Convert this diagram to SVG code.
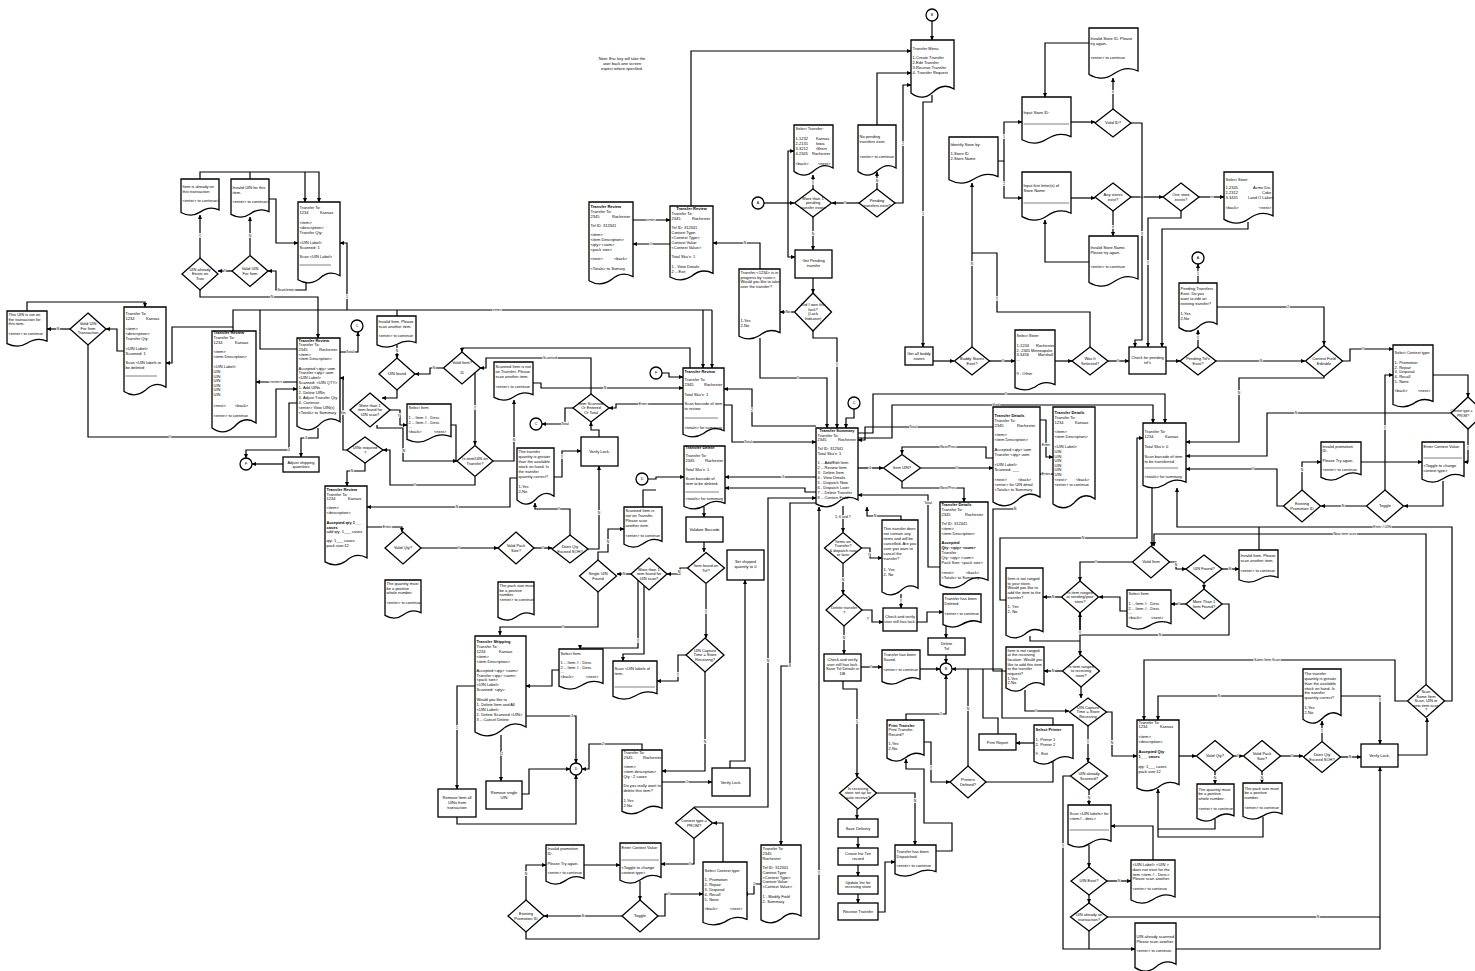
<svg xmlns="http://www.w3.org/2000/svg" xmlns:xlink="http://www.w3.org/1999/xlink" width="1475" height="971" viewBox="0 0 1475 971">
<style>
.n{fill:#fff;stroke:#000;stroke-width:1.3}
.t{font-family:"Liberation Sans",Arial,sans-serif;font-size:4px;fill:#000}
.b{font-weight:bold}
.m{text-anchor:middle}
.c{fill:none;stroke:#000;stroke-width:1.2;marker-end:url(#a)}
.k{fill:none;stroke:#000;stroke-width:1.2}
.lb{font-family:"Liberation Sans",Arial,sans-serif;font-size:3.5px;text-anchor:middle;fill:#000;stroke:#fff;stroke-width:1.6;paint-order:stroke}
.sep{stroke:#000;stroke-width:0.5}
.cl{font-family:"Liberation Sans",Arial,sans-serif;font-size:3.6px;text-anchor:middle;fill:#000}
</style>
<defs>
<marker id="a" viewBox="0 0 10 10" refX="9" refY="5" markerWidth="4.5" markerHeight="4.5" markerUnits="userSpaceOnUse" orient="auto"><path d="M0,0.5L10,5L0,9.5z" fill="#000"/></marker>
<path id="dS" vector-effect="non-scaling-stroke" d="M0,0H100V86C80,76 64,82 50,92C34,103 16,102 0,93Z"/>
<path id="dT" vector-effect="non-scaling-stroke" d="M0,0H100V91C80,85 64,88 50,95C34,101 16,101 0,96Z"/>
</defs>
<rect width="1475" height="971" fill="#fff"/>

<g id="connectors">
<path class="c" d="M200,179V172H319V202"/><path class="k" d="M250,179V172"/><path class="c" d="M305,172V202"/>
<path class="c" d="M269,199H276V243H298"/>
<path class="c" d="M250,255V217"/><text class="lb" x="250" y="237">N</text>
<path class="c" d="M200,258V215"/><text class="lb" x="200" y="237">Y</text>
<path class="c" d="M232,271H218"/><text class="lb" x="225" y="272">Y</text>
<path class="c" d="M306,283V290H276V271H268"/><text class="lb" x="286" y="291">Scan/enter</text>
<path class="c" d="M200,290V297H318V338"/><text class="lb" x="272" y="298">N</text>
<path class="k" d="M233,331V310H712"/><path class="c" d="M703,310V368"/><path class="c" d="M712,310V368"/><text class="lb" x="497" y="311">enter</text>
<path class="c" d="M347,310V243H340"/><text class="lb" x="347" y="298">1</text>
<path class="k" d="M397,316V310"/>
<path class="c" d="M27,311V302H145V307"/>
<path class="c" d="M70,329H47"/><text class="lb" x="58" y="330">N</text>
<path class="c" d="M124,351H117V329H106"/>
<path class="c" d="M233,327H172V363H166"/>
<path class="c" d="M88,345V437H276V389H297"/><text class="lb" x="170" y="438">Y</text>
<path class="c" d="M297,382H256"/><text class="lb" x="276" y="383">&lt;enter&gt;</text>
<path class="k" d="M297,349H260V310"/>
<path class="c" d="M340,352H358V332"/><text class="lb" x="350" y="353">Total</text>
<path class="c" d="M318,428V438H301V457"/><text class="lb" x="306" y="439">3</text>
<path class="c" d="M297,403H289V450H246V458"/><text class="lb" x="289" y="451">4</text>
<path class="c" d="M283,464H252"/>
<path class="c" d="M347,450H343V378H340"/><text class="lb" x="343" y="414">Yes</text>
<path class="c" d="M365,463V471H347V486"/><text class="lb" x="352" y="472">N</text>
<path class="c" d="M475,477V485H390V450H383"/><text class="lb" x="415" y="486">Y</text>
<path class="c" d="M397,345V358"/><text class="lb" x="397" y="352">N</text>
<path class="c" d="M443,368H430V374H415"/><text class="lb" x="434" y="369">N</text>
<path class="c" d="M397,390V398H382"/>
<path class="c" d="M390,410H400V425H407"/><text class="lb" x="399" y="417">Y</text>
<path class="c" d="M377,425V428H403V461H457"/><text class="lb" x="404" y="452">N</text>
<path class="k" d="M451,425H456V461"/>
<path class="c" d="M690,368V348H462V352"/>
<path class="c" d="M591,394V358H486V368H480"/><text class="lb" x="550" y="359">Scanned</text>
<path class="c" d="M475,373V445"/><text class="lb" x="475" y="409">Y</text>
<path class="c" d="M493,461H514V400"/><text class="lb" x="514" y="441">N</text>
<path class="c" d="M517,478H510V507H367"/><text class="lb" x="457" y="508">N</text>
<path class="c" d="M367,527H402V532"/><text class="lb" x="387" y="528">Enter</text>
<path class="c" d="M421,548H498"/><text class="lb" x="459" y="549">Y</text>
<path class="c" d="M534,548H552"/><text class="lb" x="543" y="549">Y</text>
<path class="c" d="M570,535V509H535V503"/><text class="lb" x="559" y="510">Y</text>
<path class="c" d="M588,549H599V466"/><text class="lb" x="599" y="514">N</text>
<path class="c" d="M554,477H562V451H581"/><text class="lb" x="562" y="458">Y</text>
<path class="c" d="M599,437V430H591V422"/>
<path class="c" d="M683,404H616V408H609"/><text class="lb" x="643" y="405">Enter</text>
<path class="c" d="M573,408H565V424H542"/><text class="lb" x="565" y="425">Total</text>
<path class="c" d="M533,383H541V388H683"/><text class="lb" x="605" y="389">N</text>
<path class="c" d="M662,373H669V377H683"/>
<path class="c" d="M724,405H732V442H816"/><text class="lb" x="748" y="443">Total</text>
<path class="c" d="M648,479H656V477H684"/>
<path class="k" d="M643,507V490H656"/>
<path class="c" d="M704,507V517"/>
<path class="c" d="M704,542V552"/>
<path class="c" d="M687,568H680V574H667"/><text class="lb" x="679" y="573">N</text>
<path class="c" d="M631,574H617"/><text class="lb" x="624" y="575">N</text>
<path class="c" d="M598,560V552H608V529H624"/><text class="lb" x="608" y="543">N</text>
<path class="c" d="M598,592V627H500V635"/><text class="lb" x="563" y="628">Y</text>
<path class="c" d="M816,426H752V389H724"/><text class="lb" x="752" y="411">2</text>
<path class="c" d="M816,477H725"/><text class="lb" x="783" y="478">3</text>
<path class="c" d="M816,492H805V488H725"/>
<path class="c" d="M559,670H552V686H526"/>
<path class="c" d="M638,580V648H580V649"/><text class="lb" x="638" y="642">Y</text>
<path class="c" d="M644,586V654H623V661"/>
<path class="c" d="M686,655H678V681H657"/><text class="lb" x="678" y="676">Y</text>
<path class="c" d="M705,672V771H662"/><text class="lb" x="705" y="743">N</text>
<path class="c" d="M706,584V638"/><text class="lb" x="706" y="613">Y</text>
<path class="c" d="M475,686H457V789"/><text class="lb" x="457" y="729">1</text>
<path class="c" d="M501,735V781"/><text class="lb" x="502" y="755">2</text>
<path class="c" d="M526,716H576V763"/><text class="lb" x="572" y="717">3</text>
<path class="c" d="M522,794H529V769H570"/>
<path class="c" d="M457,817V824H576V775"/>
<path class="c" d="M642,750V744H589V769H582"/><text class="lb" x="603" y="745">2</text>
<path class="c" d="M662,782H712"/><text class="lb" x="687" y="783">1</text>
<path class="c" d="M694,838V864H661"/><text class="lb" x="690" y="865">Y</text>
<path class="c" d="M723,862V823H713"/>
<path class="c" d="M640,881V900"/>
<path class="c" d="M658,916H665V894H703"/><text class="lb" x="669" y="895">Y</text>
<path class="c" d="M622,916H544"/><text class="lb" x="583" y="917">N</text>
<path class="c" d="M526,900V865H546"/><text class="lb" x="526" y="875">N</text>
<path class="c" d="M584,865H620"/>
<path class="c" d="M526,932V939H819V507"/><text class="lb" x="819" y="874">Y</text>
<path class="c" d="M694,807H768V498H816"/><text class="lb" x="768" y="662">N</text>
<path class="c" d="M816,503H790V666H781V845"/><text class="lb" x="790" y="667">8</text>
<path class="c" d="M730,768V761H745V580"/>
<path class="c" d="M761,884H754V894H744"/><text class="lb" x="754" y="885">1</text>
<path class="c" d="M843,506V532"/><text class="lb" x="843" y="518">5, 6 and 7</text>
<path class="c" d="M901,520V516H867V507"/><text class="lb" x="875" y="517">N</text>
<path class="c" d="M861,548H870V558H882"/><text class="lb" x="869" y="556">Y</text>
<path class="c" d="M843,564V594"/><text class="lb" x="843" y="581">N</text>
<path class="c" d="M901,594V608"/><text class="lb" x="901" y="602">Y</text>
<path class="c" d="M862,610H872V622H883"/><text class="lb" x="868" y="620">Y</text>
<path class="c" d="M917,622H927V612H943"/>
<path class="c" d="M946,626V638"/>
<path class="c" d="M946,655V663"/>
<path class="c" d="M844,626V654"/><text class="lb" x="844" y="639">N</text>
<path class="c" d="M861,667H882"/><text class="lb" x="871" y="668">Y</text>
<path class="c" d="M920,669H940"/>
<path class="c" d="M1053,725V718H1002V669H952"/>
<path class="k" d="M998,734V718H983V669"/>
<path class="c" d="M906,720V714H946V675"/><text class="lb" x="941" y="715">2</text>
<path class="c" d="M924,742H931V782H950"/><text class="lb" x="931" y="769">Y</text>
<path class="k" d="M986,782H1053V762"/>
<path class="c" d="M1034,743H1016"/>
<path class="k" d="M968,766V669"/><text class="lb" x="968" y="710">N</text>
<path class="c" d="M843,681V689H857V777"/><text class="lb" x="857" y="723">5</text>
<path class="c" d="M857,809V819"/>
<path class="c" d="M876,793H915V845"/><text class="lb" x="915" y="802">N</text>
<path class="c" d="M858,837V848"/><path class="c" d="M858,865V876"/><path class="c" d="M858,894V903"/>
<path class="c" d="M878,912H885V862H895"/>
<path class="c" d="M936,851H952V823H924V769H906V759"/>
<path class="c" d="M854,409V418H846V428"/>
<path class="c" d="M858,468H883"/><text class="lb" x="870" y="469">4</text>
<path class="c" d="M921,468H993"/><text class="lb" x="957" y="469">Y</text>
<path class="c" d="M993,458H986V447H902V454"/><text class="lb" x="948" y="448">Next/Prev</text>
<path class="c" d="M902,482V488H964V502"/><text class="lb" x="948" y="489">Next/Prev</text>
<path class="c" d="M940,567H928V495H858"/><text class="lb" x="928" y="504">Total</text>
<path class="c" d="M993,427H865V440H858"/><text class="lb" x="913" y="428">Total</text>
<path class="c" d="M1040,420H1046V457H1053"/><text class="lb" x="1046" y="446">Enter</text>
<path class="c" d="M1053,474H1040"/><text class="lb" x="1046" y="475">Enter</text>
<path class="c" d="M858,433H873V394H1165V423"/><text class="lb" x="1006" y="395">Y</text>
<path class="c" d="M858,438H892V405H1153V423"/><text class="lb" x="996" y="406">Void</text>
<path class="c" d="M1006,671H993V509H1015V506"/><text class="lb" x="1015" y="510">N</text>
<path class="c" d="M1062,671H1044"/><text class="lb" x="1053" y="672">N</text>
<path class="c" d="M1025,690V711H1069"/><text class="lb" x="1036" y="712">Y</text>
<path class="c" d="M1081,687V698"/>
<path class="c" d="M1088,726V762"/><text class="lb" x="1088" y="743">Y</text>
<path class="c" d="M1106,712H1112V756H1137"/><text class="lb" x="1112" y="744">N</text>
<path class="c" d="M1089,790V805"/><text class="lb" x="1089" y="799">N</text>
<path class="c" d="M1070,776H1063V949H1135"/><text class="lb" x="1063" y="847">Y</text>
<path class="k" d="M1089,931V949"/>
<path class="c" d="M1089,845V867"/>
<path class="c" d="M1089,895V903"/>
<path class="c" d="M1107,881H1131"/><text class="lb" x="1119" y="882">N</text>
<path class="c" d="M1153,860V826H1111"/>
<path class="c" d="M1107,917H1380V767"/><text class="lb" x="1318" y="918">N</text>
<path class="k" d="M1176,949H1380V917"/>
<path class="c" d="M1179,756H1196"/>
<path class="c" d="M1233,756H1243"/><text class="lb" x="1238" y="757">Y</text>
<path class="c" d="M1280,756H1303"/><text class="lb" x="1292" y="757">Y</text>
<path class="c" d="M1340,757H1361"/><text class="lb" x="1350" y="758">N</text>
<path class="c" d="M1322,741V721"/><text class="lb" x="1322" y="732">Y</text>
<path class="c" d="M1215,771V784"/><text class="lb" x="1215" y="779">N</text>
<path class="c" d="M1262,771V783"/><text class="lb" x="1262" y="779">N</text>
<path class="k" d="M1215,819V829H1158"/><path class="c" d="M1263,817V837H1158V789"/>
<path class="c" d="M1303,696H1158V720"/><text class="lb" x="1219" y="697">N</text>
<path class="c" d="M1341,696H1380V744"/><text class="lb" x="1380" y="701">Y</text>
<path class="c" d="M1398,755H1427V718"/>
<path class="c" d="M1407,701H1395V660H1144V720"/><text class="lb" x="1267" y="661">Same Item Scan</text>
<path class="c" d="M1444,701H1452V527H1177V488"/><text class="lb" x="1382" y="528">Enter / UIN</text>
<path class="c" d="M1426,684V534H1154V546"/><text class="lb" x="1345" y="535">New item scan</text>
<path class="k" d="M1259,550V527"/>
<path class="c" d="M1152,487V546"/>
<path class="c" d="M1169,562H1176V569H1186"/><text class="lb" x="1176" y="566">N</text>
<path class="c" d="M1222,569H1239"/><text class="lb" x="1230" y="570">N</text>
<path class="c" d="M1204,583V589"/>
<path class="c" d="M1186,604H1171"/><text class="lb" x="1179" y="605">Y</text>
<path class="c" d="M1222,604H1229V635H1080V613"/><text class="lb" x="1160" y="636">N</text>
<path class="c" d="M1132,562H1080V581"/><text class="lb" x="1096" y="563">Y</text>
<path class="c" d="M1061,597H1043"/><text class="lb" x="1053" y="598">N</text>
<path class="c" d="M1006,600H1000V538H1137V438H1143"/><text class="lb" x="1083" y="539">N</text>
<path class="c" d="M1080,613V655"/><text class="lb" x="1080" y="634">Y</text>
<path class="k" d="M1030,636V641H1080"/>
<path class="c" d="M1127,611H1120V597H1099"/>
<path class="c" d="M1166,361H1180"/>
<path class="c" d="M1198,347V330"/><text class="lb" x="1198" y="339">Y</text>
<path class="c" d="M1216,361H1305"/><text class="lb" x="1261" y="362">N</text>
<path class="c" d="M1342,361H1350V349H1393"/><text class="lb" x="1363" y="350">Y</text>
<path class="c" d="M1324,376V378H1239V442H1186"/><text class="lb" x="1239" y="394">N</text>
<path class="c" d="M1433,375H1468V397"/>
<path class="c" d="M1451,413H1267V456H1186"/><text class="lb" x="1296" y="414">N</text>
<path class="c" d="M1468,429V462H1464"/><text class="lb" x="1468" y="449">Y</text>
<path class="c" d="M1443,481V506H1404"/>
<path class="c" d="M1366,506H1321"/><text class="lb" x="1343" y="507">N</text>
<path class="c" d="M1385,490V375H1393"/><text class="lb" x="1385" y="429">Y</text>
<path class="c" d="M1361,462H1422"/>
<path class="c" d="M1302,490V462H1321"/><text class="lb" x="1302" y="471">N</text>
<path class="c" d="M1283,506H1277V469H1186"/><text class="lb" x="1253" y="470">Y</text>
<path class="c" d="M1217,307H1324V345"/><text class="lb" x="1288" y="308">2</text>
<path class="c" d="M1198,283V264"/><text class="lb" x="1198" y="275">1</text>
<path class="c" d="M933,361H954"/>
<path class="c" d="M989,361H1015"/><text class="lb" x="1003" y="362">Y</text>
<path class="c" d="M1055,361H1072"/>
<path class="c" d="M1108,361H1129"/><text class="lb" x="1118" y="362">Y</text>
<path class="c" d="M972,347V183"/><text class="lb" x="972" y="265">N</text>
<path class="k" d="M1090,347V312H997V253H972"/><text class="lb" x="997" y="300">Y</text>
<path class="c" d="M998,161H1004V122H1022"/><text class="lb" x="1004" y="138">1</text>
<path class="c" d="M1004,161V198H1022"/><text class="lb" x="1004" y="185">2</text>
<path class="c" d="M1071,122H1095"/>
<path class="c" d="M1113,109V78"/><text class="lb" x="1113" y="93">n</text>
<path class="c" d="M1089,43H1045V97"/>
<path class="c" d="M1113,211V236"/><text class="lb" x="1113" y="228">n</text>
<path class="c" d="M1089,262H1045V220"/>
<path class="c" d="M1071,198H1095"/>
<path class="c" d="M1131,197H1163"/><text class="lb" x="1142" y="198">y</text>
<path class="c" d="M1131,123H1142V340H1135V347"/><text class="lb" x="1142" y="234">y</text>
<path class="c" d="M1181,211V218H1148V347"/><text class="lb" x="1148" y="264">Y</text>
<path class="c" d="M1248,222V229H1162V347"/>
<path class="c" d="M1199,197H1224"/><text class="lb" x="1212" y="198">n</text>
<path class="c" d="M633,220H670"/><text class="lb" x="651" y="221">enter</text>
<path class="c" d="M670,244H633"/><text class="lb" x="651" y="245">1</text>
<path class="c" d="M691,206V51H911"/>
<path class="c" d="M760,269V243H713"/><text class="lb" x="745" y="244">N</text>
<path class="c" d="M794,312H780"/><text class="lb" x="788" y="313">No</text>
<path class="c" d="M764,203H794"/><path class="c" d="M788,203V151H794"/><path class="c" d="M788,203V257H795"/>
<path class="c" d="M813,189V175"/><text class="lb" x="813" y="184">Y</text>
<path class="c" d="M813,217V250"/><text class="lb" x="813" y="235">N</text>
<path class="c" d="M859,203H832"/><text class="lb" x="845" y="204">Y</text>
<path class="c" d="M877,189V172"/><text class="lb" x="877" y="182">N</text>
<path class="c" d="M877,125V73H911"/>
<path class="c" d="M895,203H903V85H911"/><text class="lb" x="903" y="145">2</text>
<path class="c" d="M932,21V40"/>
<path class="c" d="M932,95V102H923V347"/><text class="lb" x="923" y="215">1</text>
<path class="c" d="M813,278V293"/>
<path class="c" d="M813,331V338H837V428"/><text class="lb" x="837" y="366">Y</text>
<path class="c" d="M760,338V378H827V428"/><text class="lb" x="798" y="379">Y</text>
</g>

<g id="note"><text class="t m"><tspan x="622" y="60">Note: Esc key will take the</tspan><tspan x="622" y="65">user back one screen</tspan><tspan x="622" y="70">expect where specified.</tspan></text></g>

<g id="c-B1"><circle class="n" cx="932" cy="15" r="6"/><text class="cl" x="932" y="16.3">B</text></g>
<g id="c-A1"><circle class="n" cx="758" cy="203" r="6"/><text class="cl" x="758" y="204.3">A</text></g>
<g id="c-A2"><circle class="n" cx="1198" cy="258" r="6"/><text class="cl" x="1198" y="259.3">A</text></g>
<g id="c-C1"><circle class="n" cx="357" cy="326" r="6"/><text class="cl" x="357" y="327.3">C</text></g>
<g id="c-C2"><circle class="n" cx="854" cy="403" r="6"/><text class="cl" x="854" y="404.3">C</text></g>
<g id="c-C3"><circle class="n" cx="536" cy="424" r="6"/><text class="cl" x="536" y="425.3">C</text></g>
<g id="c-F1"><circle class="n" cx="246" cy="464" r="6"/><text class="cl" x="246" y="465.3">F</text></g>
<g id="c-F2"><circle class="n" cx="656" cy="373" r="6"/><text class="cl" x="656" y="374.3">F</text></g>
<g id="c-D1"><circle class="n" cx="642" cy="479" r="6"/><text class="cl" x="642" y="480.3">D</text></g>
<g id="c-D2"><circle class="n" cx="576" cy="769" r="6"/><text class="cl" x="576" y="770.3">D</text></g>
<g id="c-B2"><circle class="n" cx="946" cy="669" r="6"/><text class="cl" x="946" y="670.3">B</text></g>

<g id="n-menu"><use href="#dS" class="n" transform="translate(911,40) scale(.43,.57)"/><text class="t"><tspan x="912.5" y="50">Transfer Menu</tspan><tspan x="912.5" y="59">1-Create Transfer</tspan><tspan x="912.5" y="64">2-Edit Transfer</tspan><tspan x="912.5" y="69">3-Receive Transfer</tspan><tspan x="912.5" y="74">4- Transfer Request</tspan></text></g>

<g id="n-tr1"><use href="#dT" class="n" transform="translate(589,202) scale(.44,.82)"/><text class="t"><tspan class="b" x="590.5" y="208">Transfer Review</tspan><tspan x="590.5" y="213">Transfer To:</tspan><tspan x="590.5" y="218">2345</tspan><tspan x="612" y="218">Rochester</tspan><tspan x="590.5" y="227">Tsf ID: 312341</tspan><tspan x="590.5" y="236">&lt;item&gt;</tspan><tspan x="590.5" y="241">&lt;item Description&gt;</tspan><tspan x="590.5" y="246">&lt;qty&gt;   &lt;uom&gt;</tspan><tspan x="590.5" y="251">&lt;pack size&gt;</tspan><tspan x="590.5" y="260">&lt;next&gt;</tspan><tspan x="614" y="260">&lt;back&gt;</tspan><tspan x="590.5" y="270">&lt;Totals&gt; to Sumary</tspan></text></g>

<g id="n-tr2"><use href="#dT" class="n" transform="translate(670,206) scale(.43,.74)"/><text class="t"><tspan class="b m" x="691.5" y="210">Transfer Review</tspan><tspan x="671.5" y="215">Transfer To:</tspan><tspan x="671.5" y="220">2345</tspan><tspan x="692" y="220">Rochester</tspan><tspan x="671.5" y="229">Tsf ID: 312341</tspan><tspan x="671.5" y="234">Context Type:</tspan><tspan x="671.5" y="239">&lt;Context Type&gt;</tspan><tspan x="671.5" y="244">Context Value:</tspan><tspan x="671.5" y="249">&lt;Context Value&gt;</tspan><tspan x="671.5" y="258">Total Sku's: 1</tspan><tspan x="671.5" y="268">1 - View Details</tspan><tspan x="671.5" y="273">2 -- Exit</tspan></text></g>

<g id="n-selT"><use href="#dS" class="n" transform="translate(794,125) scale(.39,.5)"/><text class="t"><tspan x="795.5" y="130">Select Transfer:</tspan><tspan x="795.5" y="140">1-1232</tspan><tspan x="816" y="140">Kansas</tspan><tspan x="795.5" y="145">2-2131</tspan><tspan x="816" y="145">Iowa</tspan><tspan x="795.5" y="150">3-3212</tspan><tspan x="816" y="150">Ghent</tspan><tspan x="795.5" y="155">4-2345</tspan><tspan x="812" y="155">Rochester</tspan><tspan x="795.5" y="165">&lt;back&gt;</tspan><tspan x="818" y="165">&lt;next&gt;</tspan></text></g>

<g id="n-nopend"><use href="#dS" class="n" transform="translate(858,125) scale(.38,.5)"/><text class="t"><tspan x="859.5" y="138">No pending</tspan><tspan x="859.5" y="143">transfers exist.</tspan><tspan x="859.5" y="158">&lt;enter&gt; to continue</tspan></text></g>

<g id="n-inprog"><use href="#dT" class="n" transform="translate(739,269) scale(.41,.7)"/><text class="t"><tspan x="740.5" y="274">Transfer &lt;1234&gt; is in</tspan><tspan x="740.5" y="278.5">progress by &lt;user&gt;.</tspan><tspan x="740.5" y="283">Would you like to take</tspan><tspan x="740.5" y="287.5">over the transfer?</tspan><tspan x="740.5" y="322">1-Yes</tspan><tspan x="740.5" y="327">2-No</tspan></text></g>

<g id="n-idstore"><use href="#dS" class="n" transform="translate(949,137) scale(.49,.46)"/><text class="t"><tspan x="950.5" y="146">Identify Store by:</tspan><tspan x="950.5" y="155">1-Store ID</tspan><tspan x="950.5" y="160">2-Store Name</tspan></text></g>
<g id="n-instid"><use href="#dS" class="n" transform="translate(1022,97) scale(.49,.46)"/><text class="t"><tspan x="1023.5" y="114">Input Store ID:</tspan></text><line class="sep" x1="1023.5" y1="124" x2="1069" y2="124"/></g>
<g id="n-inname"><use href="#dS" class="n" transform="translate(1022,172) scale(.49,.48)"/><text class="t"><tspan x="1023.5" y="187">Input first letter(s) of</tspan><tspan x="1023.5" y="192">Store Name:</tspan></text><line class="sep" x1="1023.5" y1="203" x2="1069" y2="203"/></g>
<g id="n-invid"><use href="#dS" class="n" transform="translate(1089,28) scale(.49,.5)"/><text class="t"><tspan x="1090.5" y="40">Invalid Store ID.  Please</tspan><tspan x="1090.5" y="45">try again.</tspan><tspan x="1090.5" y="59">&lt;enter&gt; to continue</tspan></text></g>
<g id="n-invname"><use href="#dS" class="n" transform="translate(1089,236) scale(.49,.5)"/><text class="t"><tspan x="1090.5" y="249">Invalid Store Name.</tspan><tspan x="1090.5" y="254">Please try again.</tspan><tspan x="1090.5" y="268">&lt;enter&gt; to continue</tspan></text></g>
<g id="n-selstore1"><use href="#dS" class="n" transform="translate(1224,172) scale(.49,.51)"/><text class="t"><tspan x="1225.5" y="181">Select Store:</tspan><tspan x="1225.5" y="189">1-2345</tspan><tspan x="1253" y="189">Acme Dis.</tspan><tspan x="1225.5" y="194">2-2312</tspan><tspan x="1262" y="194">Coke</tspan><tspan x="1225.5" y="199">3-3431</tspan><tspan x="1248" y="199">Land O Lakes</tspan><tspan x="1225.5" y="209">&lt;back&gt;</tspan><tspan x="1259" y="209">&lt;next&gt;</tspan></text></g>
<g id="n-pendexist"><use href="#dS" class="n" transform="translate(1179,283) scale(.38,.48)"/><text class="t"><tspan x="1180.5" y="290">Pending Transfers</tspan><tspan x="1180.5" y="295">Exist.  Do you</tspan><tspan x="1180.5" y="300">want to edit an</tspan><tspan x="1180.5" y="305">existing transfer?</tspan><tspan x="1180.5" y="315">1-Yes</tspan><tspan x="1180.5" y="320">2-No</tspan></text></g>

<g id="r-getpend"><rect class="n" x="795" y="250" width="37" height="28"/><text class="t m"><tspan x="813.5" y="262">Get Pending</tspan><tspan x="813.5" y="267">transfer</tspan></text></g>
<g id="r-buddy"><rect class="n" x="905" y="347" width="28" height="18"/><text class="t m"><tspan x="919" y="355">Get all buddy</tspan><tspan x="919" y="360">stores</tspan></text></g>
<g id="r-checkpend"><rect class="n" x="1129" y="347" width="37" height="27"/><text class="t m"><tspan x="1147.5" y="359">Check for pending</tspan><tspan x="1147.5" y="364">tsf's</tspan></text></g>
<g id="r-checkverify"><rect class="n" x="883" y="608" width="34" height="23"/><text class="t m"><tspan x="900" y="618">Check and verify</tspan><tspan x="900" y="623">user still has lock.</tspan></text></g>
<g id="r-deltsf"><rect class="n" x="928" y="638" width="37" height="17"/><text class="t m"><tspan x="946.5" y="645">Delete</tspan><tspan x="946.5" y="650">Tsf</tspan></text></g>
<g id="r-verify1"><rect class="n" x="581" y="437" width="37" height="29"/><text class="t m" x="599.5" y="452.5">Verify Lock.</text></g>
<g id="r-validate"><rect class="n" x="686" y="517" width="37" height="25"/><text class="t m" x="704.5" y="531">Validate Barcode</text></g>
<g id="r-setship"><rect class="n" x="727" y="550" width="37" height="30"/><text class="t m"><tspan x="745.5" y="563">Set shipped</tspan><tspan x="745.5" y="568">quantity to 0</tspan></text></g>
<g id="r-adjust"><rect class="n" x="283" y="457" width="36" height="15"/><text class="t m"><tspan x="301" y="463.5">Adjust shipping</tspan><tspan x="301" y="468">quantities</tspan></text></g>
<g id="r-remsingle"><rect class="n" x="486" y="781" width="36" height="28"/><text class="t m"><tspan x="504" y="794">Remove single</tspan><tspan x="504" y="799">UIN</tspan></text></g>
<g id="r-remall"><rect class="n" x="438" y="789" width="38" height="28"/><text class="t m"><tspan x="457" y="799">Remove Item all</tspan><tspan x="457" y="804">UINs from</tspan><tspan x="457" y="809">transaction</tspan></text></g>
<g id="r-verify2"><rect class="n" x="712" y="768" width="38" height="28"/><text class="t m" x="731" y="783.5">Verify Lock.</text></g>
<g id="r-checksave"><rect class="n" x="824" y="654" width="37" height="27"/><text class="t m"><tspan x="842.5" y="661">Check and verify</tspan><tspan x="842.5" y="665.5">user still has lock.</tspan><tspan x="842.5" y="670">Save Tsf Details in</tspan><tspan x="842.5" y="675">DB</tspan></text></g>
<g id="r-printrep"><rect class="n" x="979" y="734" width="37" height="16"/><text class="t m" x="997.5" y="743.5">Print Report</text></g>
<g id="r-savedel"><rect class="n" x="838" y="819" width="40" height="18"/><text class="t m" x="858" y="829.5">Save Delivery</text></g>
<g id="r-createinv"><rect class="n" x="838" y="848" width="40" height="17"/><text class="t m"><tspan x="858" y="855">Create Inv Txn</tspan><tspan x="858" y="859.5">record</tspan></text></g>
<g id="r-updinv"><rect class="n" x="838" y="876" width="40" height="18"/><text class="t m"><tspan x="858" y="883.5">Update Inv for</tspan><tspan x="858" y="888">receiving store</tspan></text></g>
<g id="r-recvtsf"><rect class="n" x="838" y="903" width="40" height="17"/><text class="t m" x="858" y="913">Receive Transfer</text></g>
<g id="r-verify3"><rect class="n" x="1361" y="744" width="37" height="23"/><text class="t m" x="1379.5" y="757">Verify Lock.</text></g>

<g id="d-more1"><polygon class="n" points="813,189 831.5,203 813,217 794.5,203"/><text class="t m"><tspan x="813" y="199.5">More than 1</tspan><tspan x="813" y="204">pending</tspan><tspan x="813" y="208.5">transfer exists</tspan></text></g>
<g id="d-pend"><polygon class="n" points="877,189 895,203 877,217 859,203"/><text class="t m"><tspan x="877" y="202">Pending</tspan><tspan x="877" y="206.5">transfers exist?</tspan></text></g>
<g id="d-lock"><polygon class="n" points="813,293 831.5,312 813,331 794.5,312"/><text class="t m"><tspan x="813" y="306">Did I own the</tspan><tspan x="813" y="310.5">lock?</tspan><tspan x="813" y="315">(Lock</tspan><tspan x="813" y="319.5">Indicator)</tspan></text></g>
<g id="d-validid"><polygon class="n" points="1113,109 1131,123 1113,137 1095,123"/><text class="t m" x="1113" y="124.4">Valid ID?</text></g>
<g id="d-anystores"><polygon class="n" points="1113,183 1131,197 1113,211 1095,197"/><text class="t m"><tspan x="1113" y="196">Any stores</tspan><tspan x="1113" y="200.5">exist?</tspan></text></g>
<g id="d-onestore"><polygon class="n" points="1181,183 1199,197 1181,211 1163,197"/><text class="t m"><tspan x="1181" y="196">One store</tspan><tspan x="1181" y="200.5">exists?</tspan></text></g>
<g id="d-buddy"><polygon class="n" points="972,347 989.5,361 972,375 954.5,361"/><text class="t m"><tspan x="972" y="360">Buddy Stores</tspan><tspan x="972" y="364.5">Exist?</tspan></text></g>
<g id="d-wassel"><polygon class="n" points="1090,347 1108,361 1090,375 1072,361"/><text class="t m"><tspan x="1090" y="360">Was It</tspan><tspan x="1090" y="364.5">Selected?</tspan></text></g>
<g id="d-pendtsf"><polygon class="n" points="1198,347 1216,361 1198,375 1180,361"/><text class="t m"><tspan x="1198" y="360">Pending Tsf's</tspan><tspan x="1198" y="364.5">Exist?</tspan></text></g>
<g id="d-ctxedit"><polygon class="n" points="1324,345.5 1342.5,361 1324,376.5 1305.5,361"/><text class="t m"><tspan x="1324" y="360">Context Field</tspan><tspan x="1324" y="364.5">Editable</tspan></text></g>
<g id="d-ctxprom1"><polygon class="n" points="1468,397 1485,413 1468,429 1451,413"/><text class="t m" style="font-size:3.4px"><tspan x="1461.5" y="412">Context type =</tspan><tspan x="1463" y="416.5">PROM?</tspan></text></g>
<g id="d-toggle1"><polygon class="n" points="1385,490 1403.5,506 1385,522 1366.5,506"/><text class="t m" x="1385" y="507.4">Toggle</text></g>
<g id="d-exist1"><polygon class="n" points="1302,490 1320.5,506 1302,522 1283.5,506"/><text class="t m"><tspan x="1302" y="505">Existing</tspan><tspan x="1302" y="509.5">Promotion ID</tspan></text></g>
<g id="d-validitem"><polygon class="n" points="1151,546 1169.5,562 1151,578 1132.5,562"/><text class="t m" x="1151" y="563.4">Valid Item</text></g>
<g id="d-uinfound2"><polygon class="n" points="1204,555 1222,569 1204,583 1186,569"/><text class="t m" x="1204" y="570.4">UIN Found?</text></g>
<g id="d-more1item2"><polygon class="n" points="1204,589 1222,604 1204,619 1186,604"/><text class="t m"><tspan x="1204" y="603">More Than 1</tspan><tspan x="1204" y="607.5">Item Found?</tspan></text></g>
<g id="d-itemuin"><polygon class="n" points="902,454.5 920.5,468 902,481.5 883.5,468"/><text class="t m" x="902" y="469.4">Item UIN?</text></g>
<g id="d-items"><polygon class="n" points="843,532.5 861.5,548 843,563.5 824.5,548"/><text class="t m"><tspan x="843" y="542.5">Items on</tspan><tspan x="843" y="547">Transfer?</tspan><tspan x="843" y="551.5">&amp; dispatch now</tspan><tspan x="843" y="556">or later</tspan></text></g>
<g id="d-deltsf"><polygon class="n" points="844,594 862,610 844,626 826,610"/><text class="t m"><tspan x="844" y="609">Delete transfer</tspan><tspan x="844" y="613.5">?</tspan></text></g>
<g id="d-rangedsend"><polygon class="n" points="1080,581 1098.5,597 1080,613 1061.5,597"/><text class="t m"><tspan x="1080" y="593.8">Is item ranged</tspan><tspan x="1080" y="598.3">at sending/your</tspan><tspan x="1080" y="602.8">store?</tspan></text></g>
<g id="d-uinfound1"><polygon class="n" points="397,358 415,374 397,390 379,374"/><text class="t m" x="397" y="375.4">UIN found</text></g>
<g id="d-validitem1"><polygon class="n" points="462,352 480.5,368 462,384 443.5,368"/><text class="t m"><tspan x="462" y="364">Valid Item?</tspan><tspan x="462" y="374">11</tspan></text></g>
<g id="d-more1a"><polygon class="n" points="370,393 390,410 370,427 350,410"/><text class="t m"><tspan x="370" y="406.8">More than 1</tspan><tspan x="370" y="411.3">item found for</tspan><tspan x="370" y="415.8">UIN scan?</tspan></text></g>
<g id="d-isitemuin"><polygon class="n" points="475,445.5 493,461 475,476.5 457,461"/><text class="t m"><tspan x="475" y="460">Is item/UIN on</tspan><tspan x="475" y="464.5">Transfer?</tspan></text></g>
<g id="d-uinsreq"><polygon class="n" points="365,437 383,450 365,463 347,450"/><text class="t m"><tspan x="365" y="449">UINs required</tspan><tspan x="365" y="453.5">?</tspan></text></g>
<g id="d-scanned"><polygon class="n" points="591,394 609,408 591,422 573,408"/><text class="t m"><tspan x="591" y="404.8">Item Scanned</tspan><tspan x="591" y="409.3">Or Entered</tspan><tspan x="591" y="413.8">Or Total</tspan></text></g>
<g id="d-itemfound"><polygon class="n" points="706,552.5 724.5,568 706,583.5 687.5,568"/><text class="t m"><tspan x="706" y="567">Item found on</tspan><tspan x="706" y="571.5">Tsf?</tspan></text></g>
<g id="d-more1b"><polygon class="n" points="649,558 667,574 649,590 631,574"/><text class="t m"><tspan x="649" y="570.8">More than 1</tspan><tspan x="649" y="575.3">item found for</tspan><tspan x="649" y="579.8">UIN scan?</tspan></text></g>
<g id="d-single"><polygon class="n" points="598,560 616.5,576 598,592 579.5,576"/><text class="t m"><tspan x="598" y="575">Single UIN</tspan><tspan x="598" y="579.5">Found</tspan></text></g>
<g id="d-exceed1"><polygon class="n" points="570,535 588,549 570,563 552,549"/><text class="t m"><tspan x="570" y="548">Does Qty</tspan><tspan x="570" y="552.5">Exceed SOH?</tspan></text></g>
<g id="d-pack1"><polygon class="n" points="516,532 534,548 516,564 498,548"/><text class="t m"><tspan x="516" y="547">Valid Pack</tspan><tspan x="516" y="551.5">Size?</tspan></text></g>
<g id="d-qty1"><polygon class="n" points="403,532 421,548 403,564 385,548"/><text class="t m" x="403" y="549.4">Valid Qty?</text></g>
<g id="d-uinexists"><polygon class="n" points="200,258 218,274 200,290 182,274"/><text class="t m"><tspan x="200" y="270.8">UIN already</tspan><tspan x="200" y="275.3">Exists on</tspan><tspan x="200" y="279.8">Tran</tspan></text></g>
<g id="d-validuin"><polygon class="n" points="250,255.5 268,271 250,286.5 232,271"/><text class="t m"><tspan x="250" y="270">Valid UIN</tspan><tspan x="250" y="274.5">For Item</tspan></text></g>
<g id="d-validuin2"><polygon class="n" points="88,313 106,329 88,345 70,329"/><text class="t m"><tspan x="88" y="325.3">Valid UIN</tspan><tspan x="88" y="329.8">For Item</tspan><tspan x="88" y="334.3">Transaction</tspan></text></g>
<g id="d-uincap1"><polygon class="n" points="705,638 724,655 705,672 686,655"/><text class="t m"><tspan x="705" y="651.8">UIN Capture</tspan><tspan x="705" y="656.3">Time = Store</tspan><tspan x="705" y="660.8">Receiving?</tspan></text></g>
<g id="d-ctxprom2"><polygon class="n" points="694,807.5 712.5,823 694,838.5 675.5,823"/><text class="t m"><tspan x="694" y="822">Context type =</tspan><tspan x="694" y="826.5">PROM?</tspan></text></g>
<g id="d-exist2"><polygon class="n" points="526,900 544,916 526,932 508,916"/><text class="t m"><tspan x="526" y="915">Existing</tspan><tspan x="526" y="919.5">Promotion ID</tspan></text></g>
<g id="d-toggle2"><polygon class="n" points="640,900 658,916 640,932 622,916"/><text class="t m" x="640" y="917.4">Toggle</text></g>
<g id="d-printers"><polygon class="n" points="968,766 986,782 968,798 950,782"/><text class="t m"><tspan x="968" y="781">Printers</tspan><tspan x="968" y="785.5">Defined?</tspan></text></g>
<g id="d-autorecv"><polygon class="n" points="858,777 876.5,793 858,809 839.5,793"/><text class="t m"><tspan x="858" y="789.8">Is receiving</tspan><tspan x="858" y="794.3">store set up for</tspan><tspan x="858" y="798.8">auto receive?</tspan></text></g>
<g id="d-rangedrecv"><polygon class="n" points="1081,655 1099.5,671 1081,687 1062.5,671"/><text class="t m"><tspan x="1081" y="667.8">Is item ranged</tspan><tspan x="1081" y="672.3">to receiving</tspan><tspan x="1081" y="676.8">store?</tspan></text></g>
<g id="d-uincap2"><polygon class="n" points="1088,698 1106.5,712 1088,726 1069.5,712"/><text class="t m"><tspan x="1088" y="708.8">UIN Capture</tspan><tspan x="1088" y="713.3">Time = Store</tspan><tspan x="1088" y="717.8">Receiving</tspan></text></g>
<g id="d-uinscanned"><polygon class="n" points="1089,762 1107.5,776 1089,790 1070.5,776"/><text class="t m"><tspan x="1089" y="775">UIN already</tspan><tspan x="1089" y="779.5">Scanned?</tspan></text></g>
<g id="d-uinexist"><polygon class="n" points="1089,867 1107,881 1089,895 1071,881"/><text class="t m" x="1089" y="882.4">UIN Exist?</text></g>
<g id="d-uinontrans"><polygon class="n" points="1089,903 1107.5,917 1089,931 1070.5,917"/><text class="t m"><tspan x="1089" y="916">UIN already on</tspan><tspan x="1089" y="920.5">transaction?</tspan></text></g>
<g id="d-qty2"><polygon class="n" points="1215,740.5 1233.5,756 1215,771.5 1196.5,756"/><text class="t m" x="1215" y="757.4">Valid Qty?</text></g>
<g id="d-pack2"><polygon class="n" points="1262,740.5 1280.5,756 1262,771.5 1243.5,756"/><text class="t m"><tspan x="1262" y="755">Valid Pack</tspan><tspan x="1262" y="759.5">Size?</tspan></text></g>
<g id="d-exceed2"><polygon class="n" points="1322,741.5 1340.5,757 1322,772.5 1303.5,757"/><text class="t m"><tspan x="1322" y="756">Does Qty</tspan><tspan x="1322" y="760.5">Exceed SOH?</tspan></text></g>
<g id="d-sameitem"><polygon class="n" points="1426,684.5 1444.5,701 1426,717.5 1407.5,701"/><text class="t m"><tspan x="1426" y="693.2">Scan</tspan><tspan x="1426" y="697.7">Same Item</tspan><tspan x="1426" y="702.2">Scan, UIN  or</tspan><tspan x="1426" y="706.7">new item scan</tspan><tspan x="1426" y="711.2">?</tspan></text></g>

<g id="n-selstore2"><use href="#dT" class="n" transform="translate(1015,330) scale(.4,.6)"/><text class="t"><tspan x="1016.5" y="337">Select Store:</tspan><tspan x="1016.5" y="347">1-1234</tspan><tspan x="1036" y="347">Rochester</tspan><tspan x="1016.5" y="351.5">2- 2345</tspan><tspan x="1031" y="351.5">Minneapolis</tspan><tspan x="1016.5" y="356">3-3456</tspan><tspan x="1038" y="356">Marshall</tspan><tspan x="1016.5" y="361">...</tspan><tspan x="1016.5" y="375">9 - Other</tspan></text></g>
<g id="n-selctx1"><use href="#dT" class="n" transform="translate(1393,345) scale(.4,.62)"/><text class="t"><tspan x="1394.5" y="354">Select Context type:</tspan><tspan x="1394.5" y="364">1- Promotion</tspan><tspan x="1394.5" y="368.5">2- Repair</tspan><tspan x="1394.5" y="373">3- Disposal</tspan><tspan x="1394.5" y="378">4- Recall</tspan><tspan x="1394.5" y="382.5">5- None</tspan><tspan x="1394.5" y="392">&lt;back&gt;</tspan><tspan x="1418" y="392">&lt;next&gt;</tspan></text></g>
<g id="n-entctx1"><use href="#dS" class="n" transform="translate(1422,442) scale(.42,.4)"/><text class="t"><tspan x="1423.5" y="448">Enter Context Value:</tspan><tspan x="1423.5" y="467">&lt;Toggle to change</tspan><tspan x="1423.5" y="472">context type&gt;</tspan></text><line class="sep" x1="1423.5" y1="458" x2="1462" y2="458"/></g>
<g id="n-invpromo1"><use href="#dS" class="n" transform="translate(1321,442) scale(.4,.38)"/><text class="t"><tspan x="1322.5" y="447.5">Invalid promotion</tspan><tspan x="1322.5" y="452">ID.</tspan><tspan x="1322.5" y="461.5">Please Try again.</tspan><tspan x="1322.5" y="471">&lt;enter&gt; to continue</tspan></text></g>
<g id="n-tt1234"><use href="#dT" class="n" transform="translate(1143,423) scale(.43,.65)"/><text class="t"><tspan x="1144.5" y="433">Transfer To:</tspan><tspan x="1144.5" y="438">1234</tspan><tspan x="1165" y="438">Kansas</tspan><tspan x="1144.5" y="448">Total Sku's:  0</tspan><tspan x="1144.5" y="458">Scan barcode of item</tspan><tspan x="1144.5" y="462.5">to be transferred</tspan><tspan x="1144.5" y="478">&lt;totals&gt; for summary</tspan></text><line class="sep" x1="1144.5" y1="468" x2="1178" y2="468"/></g>
<g id="n-invitem2"><use href="#dS" class="n" transform="translate(1239,550) scale(.39,.32)"/><text class="t"><tspan x="1240.5" y="557">Invalid Item.  Please</tspan><tspan x="1240.5" y="562">scan another item.</tspan><tspan x="1240.5" y="572">&lt;enter&gt; to continue</tspan></text></g>
<g id="n-selitem2"><use href="#dS" class="n" transform="translate(1127,590) scale(.44,.39)"/><text class="t"><tspan x="1128.5" y="595">Select Item:</tspan><tspan x="1128.5" y="605">1 -- Item # - Desc</tspan><tspan x="1128.5" y="609.5">2 -- Item # - Desc</tspan><tspan x="1128.5" y="614">...</tspan><tspan x="1128.5" y="619">&lt;back&gt;</tspan><tspan x="1151" y="619">&lt;next&gt;</tspan></text></g>

<g id="n-td1"><use href="#dT" class="n" transform="translate(993,407) scale(.47,.99)"/><text class="t"><tspan class="b" x="994.5" y="417">Transfer Details</tspan><tspan x="994.5" y="422">Transfer To:</tspan><tspan x="994.5" y="427">2345</tspan><tspan x="1017" y="427">Rochester</tspan><tspan x="994.5" y="436">&lt;item&gt;</tspan><tspan x="994.5" y="441">&lt;item Description&gt;</tspan><tspan x="994.5" y="451">Accepted &lt;qty&gt; uom</tspan><tspan x="994.5" y="456">Transfer  &lt;qty&gt; uom</tspan><tspan x="994.5" y="466">&lt;UIN Label&gt;</tspan><tspan x="994.5" y="471">Scanned: ___</tspan><tspan x="994.5" y="481">&lt;next&gt;</tspan><tspan x="1018" y="481">&lt;back&gt;</tspan><tspan x="994.5" y="486">&lt;enter&gt; for UIN detail</tspan><tspan x="994.5" y="491">&lt;Totals&gt; to Summary</tspan></text></g>
<g id="n-td2"><use href="#dT" class="n" transform="translate(1053,407) scale(.42,1.01)"/><text class="t"><tspan class="b" x="1054.5" y="414">Transfer Details</tspan><tspan x="1054.5" y="419">Transfer To:</tspan><tspan x="1054.5" y="424">1234</tspan><tspan x="1075" y="424">Kansas</tspan><tspan x="1054.5" y="433">&lt;item&gt;</tspan><tspan x="1054.5" y="438">&lt;item Description&gt;</tspan><tspan x="1054.5" y="448">&lt;UIN Label&gt;</tspan><tspan x="1054.5" y="453">UIN</tspan><tspan x="1054.5" y="457.5">UIN</tspan><tspan x="1054.5" y="462">UIN</tspan><tspan x="1054.5" y="466.5">UIN</tspan><tspan x="1054.5" y="471">UIN</tspan><tspan x="1054.5" y="475.5">UIN</tspan><tspan x="1054.5" y="481">&lt;next&gt;</tspan><tspan x="1076" y="481">&lt;back&gt;</tspan><tspan x="1054.5" y="486">&lt;enter&gt; to continue</tspan></text></g>
<g id="n-summary"><use href="#dT" class="n" transform="translate(816,428) scale(.42,.79)"/><text class="t"><tspan class="b m" x="837" y="432">Transfer Summary</tspan><tspan x="817.5" y="436.5">Transfer To:</tspan><tspan x="817.5" y="441">2345</tspan><tspan x="838" y="441">Rochester</tspan><tspan x="817.5" y="450">Tsf ID: 312341</tspan><tspan x="817.5" y="454.5">Total Sku's: 1</tspan><tspan x="817.5" y="464">1 -- Add/Edit Item</tspan><tspan x="817.5" y="469">2 -- Review Item</tspan><tspan x="817.5" y="474">3 - Delete Item</tspan><tspan x="817.5" y="479">4 - View Details</tspan><tspan x="817.5" y="484">5 - Dispatch Now</tspan><tspan x="817.5" y="489">6 - Dispatch Later</tspan><tspan x="817.5" y="494">7 -- Delete Transfer</tspan><tspan x="817.5" y="499">8 -- Context Field</tspan></text></g>
<g id="n-td3"><use href="#dT" class="n" transform="translate(940,502) scale(.48,.86)"/><text class="t"><tspan class="b" x="941.5" y="506">Transfer Details</tspan><tspan x="941.5" y="510.5">Transfer To:</tspan><tspan x="941.5" y="515.5">2345</tspan><tspan x="965" y="515.5">Rochester</tspan><tspan x="941.5" y="524.5">Tsf ID: 312341</tspan><tspan x="941.5" y="529.5">&lt;item&gt;</tspan><tspan x="941.5" y="534.5">&lt;item Description&gt;</tspan><tspan class="b" x="941.5" y="544">Accepted</tspan><tspan class="b" x="941.5" y="549">Qty: &lt;qty&gt;  &lt;uom&gt;</tspan><tspan x="941.5" y="554">Transfer</tspan><tspan x="941.5" y="559">Qty: &lt;qty&gt;  &lt;uom&gt;</tspan><tspan x="941.5" y="564">Pack Size: &lt;pack size&gt;</tspan><tspan x="941.5" y="574">&lt;next&gt;</tspan><tspan x="966" y="574">&lt;back&gt;</tspan><tspan x="941.5" y="579">&lt;Totals&gt; to Summary</tspan></text></g>
<g id="n-nocontain"><use href="#dT" class="n" transform="translate(882,520) scale(.36,.75)"/><text class="t"><tspan x="883.5" y="530">This transfer does</tspan><tspan x="883.5" y="535">not contain any</tspan><tspan x="883.5" y="540">items and will be</tspan><tspan x="883.5" y="545">cancelled. Are you</tspan><tspan x="883.5" y="550">sure you want to</tspan><tspan x="883.5" y="555">cancel the</tspan><tspan x="883.5" y="560">transfer?</tspan><tspan x="883.5" y="571">1- Yes</tspan><tspan x="883.5" y="576">2- No</tspan></text></g>
<g id="n-deleted"><use href="#dS" class="n" transform="translate(943,594) scale(.38,.33)"/><text class="t"><tspan x="944.5" y="600">Transfer has been</tspan><tspan x="944.5" y="605">Deleted.</tspan><tspan x="944.5" y="615">&lt;enter&gt; to continue</tspan></text></g>
<g id="n-notranged"><use href="#dT" class="n" transform="translate(1006,568) scale(.37,.7)"/><text class="t"><tspan x="1007.5" y="580">Item is not ranged</tspan><tspan x="1007.5" y="584.5">to your store.</tspan><tspan x="1007.5" y="589">Would you like to</tspan><tspan x="1007.5" y="594">add the item to the</tspan><tspan x="1007.5" y="598.5">transfer?</tspan><tspan x="1007.5" y="608">1- Yes</tspan><tspan x="1007.5" y="613">2- No</tspan></text></g>

<g id="n-invitem1"><use href="#dS" class="n" transform="translate(377,316) scale(.39,.31)"/><text class="t"><tspan x="378.5" y="323">Invalid Item.  Please</tspan><tspan x="378.5" y="328">scan another item.</tspan><tspan x="378.5" y="337">&lt;enter&gt; to continue</tspan></text></g>
<g id="n-scannot1"><use href="#dS" class="n" transform="translate(494,362) scale(.39,.38)"/><text class="t"><tspan x="495.5" y="368">Scanned Item is not</tspan><tspan x="495.5" y="373">on Transfer.  Please</tspan><tspan x="495.5" y="378">scan another item.</tspan><tspan x="495.5" y="388">&lt;enter&gt; to continue</tspan></text></g>
<g id="n-selitem1"><use href="#dS" class="n" transform="translate(407,404) scale(.44,.38)"/><text class="t"><tspan x="408.5" y="409">Select Item</tspan><tspan x="408.5" y="419">1 -- Item # - Desc</tspan><tspan x="408.5" y="424">2 -- Item # - Desc</tspan><tspan x="408.5" y="428">...</tspan><tspan x="408.5" y="433">&lt;back&gt;</tspan><tspan x="434" y="433">&lt;next&gt;</tspan></text></g>
<g id="n-qtygt1"><use href="#dS" class="n" transform="translate(517,448) scale(.37,.56)"/><text class="t"><tspan x="518.5" y="453">The transfer</tspan><tspan x="518.5" y="458">quantity is greater</tspan><tspan x="518.5" y="463">than the available</tspan><tspan x="518.5" y="468">stock on hand.  Is</tspan><tspan x="518.5" y="473">the transfer</tspan><tspan x="518.5" y="478">quantity correct?</tspan><tspan x="518.5" y="488">1-Yes</tspan><tspan x="518.5" y="493">2-No</tspan></text></g>
<g id="n-tr3"><use href="#dT" class="n" transform="translate(683,368) scale(.41,.69)"/><text class="t"><tspan class="b" x="684.5" y="372.5">Transfer Review</tspan><tspan x="684.5" y="381">Transfer To:</tspan><tspan x="684.5" y="386">2345</tspan><tspan x="704" y="386">Rochester</tspan><tspan x="684.5" y="396">Total Sku's:  1</tspan><tspan x="684.5" y="405">Scan barcode of item</tspan><tspan x="684.5" y="410">to review</tspan><tspan x="684.5" y="429">&lt;totals&gt; for summary</tspan></text><line class="sep" x1="684.5" y1="418" x2="718" y2="418"/></g>
<g id="n-tdel"><use href="#dT" class="n" transform="translate(684,446) scale(.41,.63)"/><text class="t"><tspan class="b" x="685.5" y="449">Transfer Delete</tspan><tspan x="685.5" y="457">Transfer To:</tspan><tspan x="685.5" y="462">2345</tspan><tspan x="705" y="462">Rochester</tspan><tspan x="685.5" y="471">Total Sku's:  1</tspan><tspan x="685.5" y="480">Scan barcode of</tspan><tspan x="685.5" y="485">item to be deleted.</tspan><tspan x="685.5" y="500">&lt;totals&gt; for summary</tspan></text><line class="sep" x1="685.5" y1="492" x2="719" y2="492"/></g>
<g id="n-scannot2"><use href="#dS" class="n" transform="translate(624,507) scale(.38,.4)"/><text class="t"><tspan x="625.5" y="512">Scanned Item is</tspan><tspan x="625.5" y="517">not on Transfer.</tspan><tspan x="625.5" y="522">Please scan</tspan><tspan x="625.5" y="527">another item.</tspan><tspan x="625.5" y="537">&lt;enter&gt; to continue</tspan></text></g>
<g id="n-qtymsg1"><use href="#dS" class="n" transform="translate(385,580) scale(.36,.38)"/><text class="t"><tspan x="386.5" y="585">The quantity must</tspan><tspan x="386.5" y="589.5">be a  positive</tspan><tspan x="386.5" y="594">whole number.</tspan><tspan x="386.5" y="604">&lt;enter&gt; to continue</tspan></text></g>
<g id="n-packmsg1"><use href="#dS" class="n" transform="translate(498,582) scale(.36,.38)"/><text class="t"><tspan x="499.5" y="587">The pack size must</tspan><tspan x="499.5" y="591.5">be a positive</tspan><tspan x="499.5" y="596">number.</tspan><tspan x="499.5" y="601">&lt;enter&gt; to continue</tspan></text></g>
<g id="n-tr4"><use href="#dT" class="n" transform="translate(325,486) scale(.42,.79)"/><text class="t"><tspan class="b" x="326.5" y="491">Transfer Review</tspan><tspan x="326.5" y="495.5">Transfer To:</tspan><tspan x="326.5" y="500">1234</tspan><tspan x="348" y="500">Kansas</tspan><tspan x="326.5" y="509">&lt;item&gt;</tspan><tspan x="326.5" y="514">&lt;description&gt;</tspan><tspan class="b" x="326.5" y="524">Accepted qty 1___</tspan><tspan class="b" x="326.5" y="528.5">cases</tspan><tspan x="326.5" y="533">add qty:    1___  cases</tspan><tspan x="326.5" y="542">qty:        1___  cases</tspan><tspan x="326.5" y="547">pack size:12</tspan></text></g>

<g id="n-tt1"><use href="#dT" class="n" transform="translate(298,202) scale(.42,.81)"/><text class="t"><tspan x="299.5" y="209">Transfer To:</tspan><tspan x="299.5" y="214">1234</tspan><tspan x="320" y="214">Kansas</tspan><tspan x="299.5" y="224">&lt;item&gt;</tspan><tspan x="299.5" y="229">&lt;description&gt;</tspan><tspan x="299.5" y="234">Transfer Qty:</tspan><tspan x="299.5" y="244">&lt;UIN Label&gt;</tspan><tspan x="299.5" y="248.5">Scanned: 1</tspan><tspan x="299.5" y="258">Scan &lt;UIN Label&gt;</tspan></text><line class="sep" x1="299.5" y1="265" x2="331" y2="265"/></g>
<g id="n-already"><use href="#dS" class="n" transform="translate(181,179) scale(.38,.36)"/><text class="t"><tspan x="182.5" y="188">Item is already on</tspan><tspan x="182.5" y="193">this transaction</tspan><tspan x="182.5" y="202">&lt;enter&gt; to continue&gt;</tspan></text></g>
<g id="n-invuin"><use href="#dS" class="n" transform="translate(231,179) scale(.38,.38)"/><text class="t"><tspan x="232.5" y="189">Invalid UIN for this</tspan><tspan x="232.5" y="194">item.</tspan><tspan x="232.5" y="203">&lt;enter&gt; to continue&gt;</tspan></text></g>
<g id="n-notontrans"><use href="#dS" class="n" transform="translate(7,311) scale(.4,.35)"/><text class="t"><tspan x="8.5" y="316">This UIN is not on</tspan><tspan x="8.5" y="320.5">the transaction for</tspan><tspan x="8.5" y="325">this item.</tspan><tspan x="8.5" y="335">&lt;enter&gt; to continue</tspan></text></g>
<g id="n-tt2"><use href="#dT" class="n" transform="translate(124,307) scale(.42,.88)"/><text class="t"><tspan x="125.5" y="315">Transfer To:</tspan><tspan x="125.5" y="320">1234</tspan><tspan x="146" y="320">Kansas</tspan><tspan x="125.5" y="330">&lt;item&gt;</tspan><tspan x="125.5" y="335">&lt;description&gt;</tspan><tspan x="125.5" y="340">Transfer Qty:</tspan><tspan x="125.5" y="350">&lt;UIN Label&gt;</tspan><tspan x="125.5" y="355">Scanned: 1</tspan><tspan x="125.5" y="364">Scan &lt;UIN labels to</tspan><tspan x="125.5" y="369">be deleted</tspan></text><line class="sep" x1="125.5" y1="376" x2="157" y2="376"/></g>
<g id="n-tr5"><use href="#dT" class="n" transform="translate(212,331) scale(.44,1.01)"/><text class="t"><tspan class="b" x="213.5" y="334">Transfer Review</tspan><tspan x="213.5" y="339">Transfer To:</tspan><tspan x="213.5" y="344">1234</tspan><tspan x="235" y="344">Kansas</tspan><tspan x="213.5" y="353">&lt;item&gt;</tspan><tspan x="213.5" y="358">&lt;item Description&gt;</tspan><tspan x="213.5" y="368">&lt;UIN Label&gt;</tspan><tspan x="213.5" y="373">UIN</tspan><tspan x="213.5" y="377.5">UIN</tspan><tspan x="213.5" y="382">UIN</tspan><tspan x="213.5" y="386.5">UIN</tspan><tspan x="213.5" y="391">UIN</tspan><tspan x="213.5" y="395.5">UIN</tspan><tspan x="213.5" y="407">&lt;next&gt;</tspan><tspan x="235" y="407">&lt;back&gt;</tspan><tspan x="213.5" y="417">&lt;enter&gt; to continue</tspan></text></g>
<g id="n-tr6"><use href="#dT" class="n" transform="translate(297,338) scale(.43,.92)"/><text class="t"><tspan class="b" x="298.5" y="341.5">Transfer Review</tspan><tspan x="298.5" y="346">Transfer To:</tspan><tspan x="298.5" y="351">2345</tspan><tspan x="319" y="351">Rochester</tspan><tspan x="298.5" y="355.5">&lt;item&gt;</tspan><tspan x="298.5" y="360">&lt;item Description&gt;</tspan><tspan x="298.5" y="369.5">Accepted &lt;qty&gt; uom</tspan><tspan x="298.5" y="374">Transfer &lt;qty&gt; uom</tspan><tspan x="298.5" y="379">&lt;UIN Label&gt;</tspan><tspan x="298.5" y="384">Scanned: &lt;UIN QTY&gt;</tspan><tspan x="298.5" y="389">1- Add UINs</tspan><tspan x="298.5" y="394">2- Delete UINs</tspan><tspan x="298.5" y="399">3- Adjust Transfer Qty</tspan><tspan x="298.5" y="404">4- Continue</tspan><tspan x="298.5" y="409">&lt;enter&gt; View UIN(s)</tspan><tspan x="298.5" y="414">&lt;Totals&gt; to Summary</tspan></text></g>

<g id="n-ship"><use href="#dT" class="n" transform="translate(475,636) scale(.51,1)"/><text class="t"><tspan class="b" x="476.5" y="643">Transfer Shipping</tspan><tspan x="476.5" y="648">Transfer To:</tspan><tspan x="476.5" y="653">1234</tspan><tspan x="499" y="653">Kansas</tspan><tspan x="476.5" y="658">&lt;item&gt;</tspan><tspan x="476.5" y="662.5">&lt;item Description&gt;</tspan><tspan x="476.5" y="672">Accepted &lt;qty&gt;  &lt;uom&gt;</tspan><tspan x="476.5" y="676.5">Transfer &lt;qty&gt;  &lt;uom&gt;</tspan><tspan x="476.5" y="681">&lt;pack size&gt;</tspan><tspan x="476.5" y="686">&lt;UIN Label&gt;</tspan><tspan x="476.5" y="691">Scanned: &lt;qty&gt;</tspan><tspan x="476.5" y="701">Would you like to</tspan><tspan x="476.5" y="706">1- Delete Item and All</tspan><tspan x="476.5" y="711">&lt;UIN Label&gt;</tspan><tspan x="476.5" y="716">2- Delete Scanned &lt;UIN&gt;</tspan><tspan x="476.5" y="721">3 -- Cancel Delete</tspan></text></g>
<g id="n-selitem3"><use href="#dS" class="n" transform="translate(559,649) scale(.44,.4)"/><text class="t"><tspan x="560.5" y="655">Select Item</tspan><tspan x="560.5" y="663.5">1 -- Item # - Desc</tspan><tspan x="560.5" y="668.5">2 -- Item # - Desc</tspan><tspan x="560.5" y="673">...</tspan><tspan x="560.5" y="678">&lt;back&gt;</tspan><tspan x="586" y="678">&lt;next&gt;</tspan></text></g>
<g id="n-scanuin"><use href="#dS" class="n" transform="translate(613,661) scale(.44,.38)"/><text class="t"><tspan x="614.5" y="670">Scan &lt;UIN labels of</tspan><tspan x="614.5" y="675">item.</tspan></text><line class="sep" x1="614.5" y1="687" x2="655" y2="687"/></g>
<g id="n-deldoc"><use href="#dT" class="n" transform="translate(622,750) scale(.4,.64)"/><text class="t"><tspan x="623.5" y="753.5">Transfer To:</tspan><tspan x="623.5" y="758.5">2345</tspan><tspan x="643" y="758.5">Rochester</tspan><tspan x="623.5" y="767.5">&lt;item&gt;</tspan><tspan x="623.5" y="772.5">&lt;item description&gt;</tspan><tspan x="623.5" y="777.5">Qty : 2 cases</tspan><tspan x="623.5" y="787">Do you really want to</tspan><tspan x="623.5" y="792">delete this item?</tspan><tspan x="623.5" y="802">1-Yes</tspan><tspan x="623.5" y="807">2-No</tspan></text></g>
<g id="n-invpromo2"><use href="#dS" class="n" transform="translate(546,845) scale(.38,.39)"/><text class="t"><tspan x="547.5" y="850">Invalid promotion</tspan><tspan x="547.5" y="854.5">ID.</tspan><tspan x="547.5" y="864.5">Please Try again.</tspan><tspan x="547.5" y="874">&lt;enter&gt; to continue</tspan></text></g>
<g id="n-entctx2"><use href="#dS" class="n" transform="translate(620,843) scale(.41,.4)"/><text class="t"><tspan x="621.5" y="849">Enter Context Value:</tspan><tspan x="621.5" y="868.5">&lt;Toggle to change</tspan><tspan x="621.5" y="873.5">context type&gt;</tspan></text><line class="sep" x1="621.5" y1="860" x2="659" y2="860"/></g>
<g id="n-selctx2"><use href="#dT" class="n" transform="translate(703,862) scale(.44,.63)"/><text class="t"><tspan x="704.5" y="871.5">Select Context type:</tspan><tspan x="704.5" y="881">1- Promotion</tspan><tspan x="704.5" y="885.5">2- Repair</tspan><tspan x="704.5" y="890.5">3- Disposal</tspan><tspan x="704.5" y="895.5">4- Recall</tspan><tspan x="704.5" y="900.5">5- None</tspan><tspan x="704.5" y="909.5">&lt;back&gt;</tspan><tspan x="730" y="909.5">&lt;next&gt;</tspan></text></g>

<g id="n-saved"><use href="#dS" class="n" transform="translate(882,650) scale(.38,.34)"/><text class="t"><tspan x="883.5" y="656">Transfer has been</tspan><tspan x="883.5" y="661">Saved.</tspan><tspan x="883.5" y="671">&lt;enter&gt; to continue</tspan></text></g>
<g id="n-print"><use href="#dS" class="n" transform="translate(887,720) scale(.37,.41)"/><text class="t"><tspan class="b" x="888.5" y="726.5">Print Transfer</tspan><tspan x="888.5" y="731">Print Transfer</tspan><tspan x="888.5" y="735.5">Record?</tspan><tspan x="888.5" y="745">1-Yes</tspan><tspan x="888.5" y="750">2-No</tspan></text></g>
<g id="n-selprinter"><use href="#dS" class="n" transform="translate(1034,725) scale(.39,.39)"/><text class="t"><tspan class="b" x="1035.5" y="731">Select Printer</tspan><tspan x="1035.5" y="741">1- Printer 1</tspan><tspan x="1035.5" y="745.5">2- Printer 2</tspan><tspan x="1035.5" y="755">9 - Exit</tspan></text></g>
<g id="n-dispatched"><use href="#dS" class="n" transform="translate(895,845) scale(.41,.31)"/><text class="t"><tspan x="896.5" y="852.5">Transfer  has been</tspan><tspan x="896.5" y="857.5">Dispatched.</tspan><tspan x="896.5" y="867">&lt;enter&gt; to continue</tspan></text></g>
<g id="n-ctxdoc"><use href="#dT" class="n" transform="translate(761,845) scale(.4,.78)"/><text class="t"><tspan x="762.5" y="850">Transfer To:</tspan><tspan x="762.5" y="854.5">2345</tspan><tspan x="762.5" y="859.5">Rochester</tspan><tspan x="762.5" y="868.5">Tsf ID: 312341</tspan><tspan x="762.5" y="873.5">Context Type:</tspan><tspan x="762.5" y="878.5">&lt;Context Type&gt;</tspan><tspan x="762.5" y="883">Context Value:</tspan><tspan x="762.5" y="888">&lt;Context Value&gt;</tspan><tspan x="762.5" y="898">1 - Modify Field</tspan><tspan x="762.5" y="903">2- Summary</tspan></text></g>
<g id="n-notrangedrecv"><use href="#dS" class="n" transform="translate(1006,647) scale(.38,.44)"/><text class="t"><tspan x="1007.5" y="651.5">Item is not ranged</tspan><tspan x="1007.5" y="656">at the receiving</tspan><tspan x="1007.5" y="661">location. Would you</tspan><tspan x="1007.5" y="665.5">like to add this item</tspan><tspan x="1007.5" y="670">to the transfer</tspan><tspan x="1007.5" y="675">request?</tspan><tspan x="1007.5" y="679.5">1-Yes</tspan><tspan x="1007.5" y="684">2-No</tspan></text></g>
<g id="n-scanuin2"><use href="#dS" class="n" transform="translate(1068,805) scale(.43,.42)"/><text class="t"><tspan x="1069.5" y="815">Scan &lt;UIN labels&gt; for</tspan><tspan x="1069.5" y="820">&lt;item# - desc&gt;</tspan></text><line class="sep" x1="1069.5" y1="830" x2="1109" y2="830"/></g>
<g id="n-uinlabel"><use href="#dS" class="n" transform="translate(1131,860) scale(.44,.43)"/><text class="t"><tspan x="1132.5" y="865.5">&lt;UIN Label&gt; &lt;UIN &gt;</tspan><tspan x="1132.5" y="870.5">does not exist for the</tspan><tspan x="1132.5" y="875.5">item &lt;item # - Desc&gt;.</tspan><tspan x="1132.5" y="880">Please scan another.</tspan><tspan x="1132.5" y="890">&lt;enter&gt; to continue</tspan></text></g>
<g id="n-uinalready"><use href="#dS" class="n" transform="translate(1135,923) scale(.41,.48)"/><text class="t"><tspan x="1136.5" y="937.5">UIN already scanned.</tspan><tspan x="1136.5" y="942.5">Please scan another.</tspan><tspan x="1136.5" y="952">&lt;enter&gt; to continue.</tspan></text></g>
<g id="n-tt3"><use href="#dT" class="n" transform="translate(1137,720) scale(.42,.71)"/><text class="t"><tspan x="1138.5" y="723.5">Transfer To:</tspan><tspan x="1138.5" y="728">1234</tspan><tspan x="1160" y="728">Kansas</tspan><tspan x="1138.5" y="738">&lt;item&gt;</tspan><tspan x="1138.5" y="743">&lt;description&gt;</tspan><tspan class="b" x="1138.5" y="753">Accepted Qty</tspan><tspan class="b" x="1138.5" y="758">1___ cases</tspan><tspan x="1138.5" y="768">qty:      1___  cases</tspan><tspan x="1138.5" y="773">pack size:12</tspan></text></g>
<g id="n-qtygt2"><use href="#dS" class="n" transform="translate(1303,669) scale(.38,.54)"/><text class="t"><tspan x="1304.5" y="674.5">The transfer</tspan><tspan x="1304.5" y="679.5">quantity is greater</tspan><tspan x="1304.5" y="684.5">than the available</tspan><tspan x="1304.5" y="689.5">stock on hand.  Is</tspan><tspan x="1304.5" y="694">the transfer</tspan><tspan x="1304.5" y="699">quantity correct?</tspan><tspan x="1304.5" y="709">1-Yes</tspan><tspan x="1304.5" y="714">2-No</tspan></text></g>
<g id="n-qtymsg2"><use href="#dS" class="n" transform="translate(1197,784) scale(.37,.37)"/><text class="t"><tspan x="1198.5" y="790.5">The quantity must</tspan><tspan x="1198.5" y="795">be a  positive</tspan><tspan x="1198.5" y="800">whole number.</tspan><tspan x="1198.5" y="810">&lt;enter&gt; to continue</tspan></text></g>
<g id="n-packmsg2"><use href="#dS" class="n" transform="translate(1243,783) scale(.39,.36)"/><text class="t"><tspan x="1244.5" y="789.5">The pack size must</tspan><tspan x="1244.5" y="794">be a positive</tspan><tspan x="1244.5" y="799">number.</tspan><tspan x="1244.5" y="808.5">&lt;enter&gt; to continue</tspan></text></g>
</svg>
